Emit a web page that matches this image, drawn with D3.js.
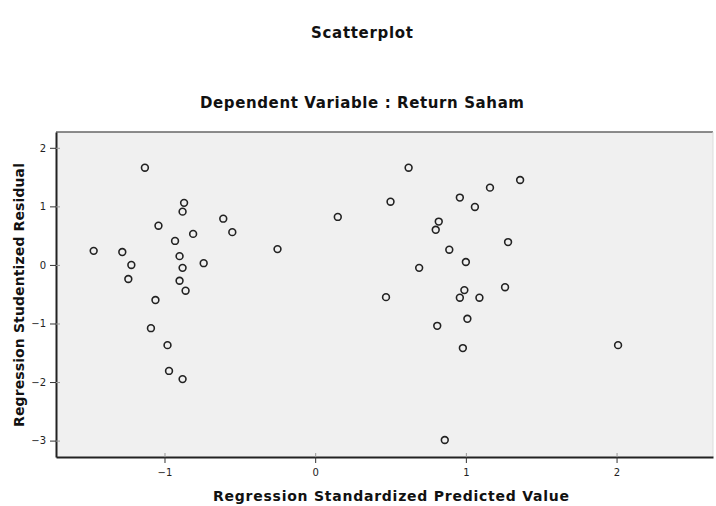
<!DOCTYPE html>
<html>
<head>
<meta charset="utf-8">
<script src="https://cdn.jsdelivr.net/npm/d3@7"></script>
<style>
  body { margin: 0; background: #fff; }
  text { font-family: "DejaVu Sans", "Liberation Sans", Arial, sans-serif; fill: #111; }
</style>
</head>
<body>
<div class="chart"></div>
<script>
// standardized predicted values and studentized residuals
var predicted = [
    -1.13, -0.87, -0.88, -1.04, -0.61, -0.55, -0.81, -0.93, -1.47, -1.28, -0.25, -0.90,
    -1.22, -0.88, -0.74, -1.24, -0.90, -0.86, -1.06, -1.09, -0.98, -0.97, -0.88, 0.15,
    0.62, 1.36, 1.16, 0.50, 0.96, 1.06, 0.82, 0.80, 1.28, 0.89, 0.69, 1.00,
    0.47, 0.99, 0.96, 1.09, 1.26, 0.81, 1.01, 0.98, 2.01, 0.86
];
var residual = [
    1.66, 1.06, 0.91, 0.67, 0.79, 0.56, 0.53, 0.41, 0.24, 0.22, 0.27, 0.15,
    0.00, -0.05, 0.03, -0.24, -0.27, -0.44, -0.60, -1.08, -1.37, -1.81, -1.95, 0.82,
    1.66, 1.45, 1.32, 1.08, 1.15, 0.99, 0.74, 0.60, 0.39, 0.26, -0.05, 0.05,
    -0.55, -0.43, -0.56, -0.56, -0.38, -1.04, -0.92, -1.42, -1.37, -2.99
];
var xTicks = [-1, 0, 1, 2];
var yTicks = [-3, -2, -1, 0, 1, 2];

var margin = { top: 132, right: 3, bottom: 49, left: 56 };
var width = 716 - margin.left - margin.right;
var height = 506 - margin.top - margin.bottom;

var root = d3.select('.chart')
    .append('svg')
    .attr('width', 716)
    .attr('height', 506);

var svg = root.append('g')
    .attr('transform', `translate(${margin.left}, ${margin.top})`);

var xScale = d3.scaleLinear()
    .domain([-1.72, 2.64])
    .range([0, width]);

var yScale = d3.scaleLinear()
    .domain([-3.28, 2.27])
    .range([height, 0]);

// plot area
svg.append('rect')
    .attr('width', width)
    .attr('height', height)
    .style('fill', '#f0f0f0');

svg.append('line')
    .attr('x1', 0).attr('x2', width)
    .attr('y1', 0).attr('y2', 0)
    .style('stroke', '#666').style('stroke-width', 1.5);
svg.append('line')
    .attr('x1', width).attr('x2', width)
    .attr('y1', 0).attr('y2', height)
    .style('stroke', '#ddd').style('stroke-width', 1);

var xAxis = d3.axisBottom(xScale)
    .tickValues(xTicks)
    .tickSize(6)
    .tickSizeOuter(0)
    .tickPadding(6)
    .tickFormat(d3.format('d'));

var yAxis = d3.axisLeft(yScale)
    .tickValues(yTicks)
    .tickSize(6)
    .tickSizeOuter(0)
    .tickPadding(4)
    .tickFormat(d3.format('d'));

var gx = svg.append('g')
    .attr('transform', 'translate(0,' + height + ')')
    .call(xAxis);
var gy = svg.append('g').call(yAxis);

[gx, gy].forEach(function (g) {
    g.select('.domain').style('stroke', '#222').style('stroke-width', 2);
    g.selectAll('.tick line').style('stroke', '#333');
    g.selectAll('.tick text')
        .style('font-family', '"DejaVu Sans", Arial, sans-serif')
        .style('font-size', '10px')
        .style('fill', '#222');
});
// short inner tick marks
gx.selectAll('.tick').append('line').attr('y2', -4).style('stroke', '#999');
gy.selectAll('.tick').append('line').attr('x2', 4).style('stroke', '#999');

svg.selectAll('circle.pt')
    .data(predicted)
    .enter()
    .append('circle')
    .attr('class', 'pt')
    .attr('cx', d => xScale(d))
    .attr('cy', (d, i) => yScale(residual[i]))
    .attr('r', 3.4)
    .style('fill', 'none')
    .style('stroke', '#222')
    .style('stroke-width', 1.6);

// titles
root.append('text')
    .attr('x', 362).attr('y', 38)
    .attr('text-anchor', 'middle')
    .attr('textLength', 102)
    .style('font-size', '15px').style('font-weight', 'bold')
    .text('Scatterplot');

root.append('text')
    .attr('x', 362).attr('y', 108)
    .attr('text-anchor', 'middle')
    .attr('textLength', 324)
    .style('font-size', '15px').style('font-weight', 'bold')
    .text('Dependent Variable : Return Saham');

root.append('text')
    .attr('x', 391).attr('y', 501)
    .attr('text-anchor', 'middle')
    .attr('textLength', 356)
    .style('font-size', '14px').style('font-weight', 'bold')
    .text('Regression Standardized Predicted Value');

root.append('text')
    .attr('transform', 'translate(24, 295) rotate(-90)')
    .attr('text-anchor', 'middle')
    .attr('textLength', 264)
    .style('font-size', '14px').style('font-weight', 'bold')
    .text('Regression Studentized Residual');
</script>
</body>
</html>
